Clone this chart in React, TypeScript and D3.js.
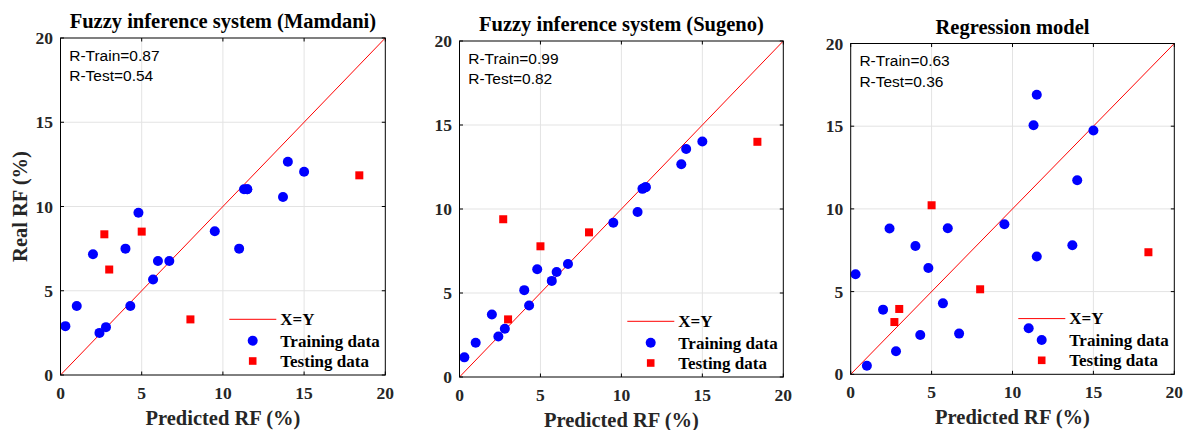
import React from "react";
import * as d3 from "d3";

// Predicted RF (%) shared by the three models
const predictedTrain = [0.3, 1.0, 2.0, 2.4, 2.8, 4.0, 4.3, 4.8, 5.7, 6.0, 6.7, 9.5, 11.0, 11.3, 11.5, 11.5, 13.7, 14.0, 15.0];
const predictedTest = [2.7, 3.0, 5.0, 8.0, 18.4];

// Real RF (%) per model
const mamdaniTrain = [2.9, 4.09, 7.17, 2.5, 2.84, 7.5, 4.09, 9.63, 5.67, 6.77, 6.77, 8.53, 7.5, 11.02, 11.02, 11.02, 10.56, 12.66, 12.06];
const mamdaniTest = [8.35, 6.26, 8.51, 3.3, 11.85];
const sugenoTrain = [1.17, 2.04, 3.72, 2.41, 2.87, 5.17, 4.26, 6.41, 5.72, 6.25, 6.73, 9.18, 9.82, 11.2, 11.3, 11.3, 12.66, 13.57, 14.02];
const sugenoTest = [9.39, 3.43, 7.78, 8.61, 14.0];
const regressionTrain = [6.05, 0.52, 3.91, 8.81, 1.39, 7.76, 2.38, 6.43, 4.29, 8.83, 2.46, 9.07, 2.78, 15.06, 16.9, 7.12, 7.8, 11.73, 14.74];
const regressionTest = [3.16, 3.95, 10.22, 5.14, 7.38];

const titles = ["Fuzzy inference system (Mamdani)", "Fuzzy inference system (Sugeno)", "Regression model"];
const rTrain = ["0.87", "0.99", "0.63"];
const rTest = ["0.54", "0.82", "0.36"];
const tickValues = [0, 5, 10, 15, 20];
const legendLabels = ["X=Y", "Training data", "Testing data"];

const panels = [
  { title: titles[0], train: mamdaniTrain, test: mamdaniTest, rTrain: rTrain[0], rTest: rTest[0], box: { l: 60.5, r: 385.3, t: 38, b: 375 }, yLabel: true },
  { title: titles[1], train: sugenoTrain, test: sugenoTest, rTrain: rTrain[1], rTest: rTest[1], box: { l: 459.5, r: 783.3, t: 41, b: 377 }, yLabel: false },
  { title: titles[2], train: regressionTrain, test: regressionTest, rTrain: rTrain[2], rTest: rTest[2], box: { l: 850.7, r: 1174.3, t: 43.5, b: 374.3 }, yLabel: false },
];

const SERIF = "'Liberation Serif', 'Times New Roman', serif";
const SANS = "'Liberation Sans', Arial, sans-serif";
const BLUE = "#0000ff";
const RED = "#ff0000";
const TICK = 3.5;

function Panel({ p }: { p: (typeof panels)[number] }) {
  const { l, r, t, b } = p.box;
  const x = d3.scaleLinear().domain([0, 20]).range([l, r]);
  const y = d3.scaleLinear().domain([0, 20]).range([b, t]);
  const diag = d3.line<number>().x((v) => x(v)).y((v) => y(v))([0, 20]) ?? "";
  const cx = (l + r) / 2;
  const cy = (t + b) / 2;
  const legendRows = [b - 55.7, b - 34.3, b - 14];
  const markerX = r - 132.6;
  const textX = r - 105;

  return (
    <g>
      {/* grid */}
      {tickValues.slice(1, -1).map((v) => (
        <g key={"g" + v}>
          <line x1={x(v)} x2={x(v)} y1={t} y2={b} stroke="#e3e3e3" strokeWidth={1} />
          <line x1={l} x2={r} y1={y(v)} y2={y(v)} stroke="#e3e3e3" strokeWidth={1} />
        </g>
      ))}
      {/* X = Y reference */}
      <path d={diag} stroke={RED} strokeWidth={1} fill="none" />
      {p.train.map((v, i) => (
        <circle key={"tr" + i} cx={x(predictedTrain[i])} cy={y(v)} r={5} fill={BLUE} />
      ))}
      {p.test.map((v, i) => (
        <rect key={"te" + i} x={x(predictedTest[i]) - 4} y={y(v) - 4} width={8} height={8} fill={RED} />
      ))}
      {/* box and inward ticks */}
      <rect x={l} y={t} width={r - l} height={b - t} fill="none" stroke="#000" strokeWidth={1} />
      {tickValues.map((v) => (
        <g key={"t" + v} stroke="#000" strokeWidth={1}>
          <line x1={x(v)} x2={x(v)} y1={b} y2={b - TICK} />
          <line x1={x(v)} x2={x(v)} y1={t} y2={t + TICK} />
          <line x1={l} x2={l + TICK} y1={y(v)} y2={y(v)} />
          <line x1={r} x2={r - TICK} y1={y(v)} y2={y(v)} />
        </g>
      ))}
      {tickValues.map((v) => (
        <text key={"xl" + v} x={x(v)} y={b + 23.5} textAnchor="middle" fontFamily={SERIF} fontWeight="bold" fontSize={17.5} fill="#262626">
          {v}
        </text>
      ))}
      {tickValues.map((v) => (
        <text key={"yl" + v} x={l - 7.5} y={y(v) + 6} textAnchor="end" fontFamily={SERIF} fontWeight="bold" fontSize={17.5} fill="#262626">
          {v}
        </text>
      ))}
      <text x={cx} y={t - 10} textAnchor="middle" fontFamily={SERIF} fontWeight="bold" fontSize={20.5} fill="#000">
        {p.title}
      </text>
      <text x={cx} y={b + 50} textAnchor="middle" fontFamily={SERIF} fontWeight="bold" fontSize={20.5} fill="#262626">
        Predicted RF (%)
      </text>
      {p.yLabel && (
        <text transform={`translate(27,${cy}) rotate(-90)`} textAnchor="middle" fontFamily={SERIF} fontWeight="bold" fontSize={20.5} fill="#262626">
          Real RF (%)
        </text>
      )}
      <text x={l + 8.7} y={t + 22.5} fontFamily={SANS} fontSize={15.5} fill="#000">
        R-Train={p.rTrain}
      </text>
      <text x={l + 8.7} y={t + 43} fontFamily={SANS} fontSize={15.5} fill="#000">
        R-Test={p.rTest}
      </text>
      {/* legend */}
      <line x1={r - 156} x2={r - 109} y1={legendRows[0]} y2={legendRows[0]} stroke={RED} strokeWidth={1} />
      <circle cx={markerX} cy={legendRows[1]} r={5} fill={BLUE} />
      <rect x={markerX - 3.8} y={legendRows[2] - 3.8} width={7.6} height={7.6} fill={RED} />
      {legendLabels.map((s, i) => (
        <text key={s} x={textX} y={legendRows[i] + 5.8} fontFamily={SERIF} fontWeight="bold" fontSize={17} fill="#000">
          {s}
        </text>
      ))}
    </g>
  );
}

export default function App() {
  return (
    <svg width={1184} height={430} style={{ position: "absolute", left: 0, top: 0, background: "#fff" }}>
      <rect width={1184} height={430} fill="#fff" />
      {panels.map((p, i) => (
        <Panel key={i} p={p} />
      ))}
    </svg>
  );
}
